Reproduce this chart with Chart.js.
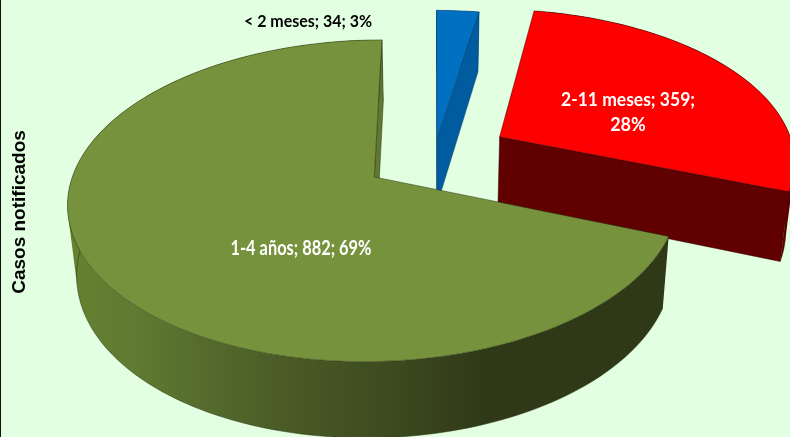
<!DOCTYPE html>
<html>
<head>
<meta charset="utf-8">
<title>Casos notificados</title>
<script src="https://cdn.jsdelivr.net/npm/chart.js@4/dist/chart.umd.js"></script>
<style>
  html, body { margin: 0; padding: 0; background: #e2ffe2; overflow: hidden; }
  #line { position: absolute; left: 0; top: 0; width: 1px; height: 437px; background: #111; }
  canvas { position: absolute; left: 0; top: 0; }
</style>
</head>
<body>
<canvas id="casosChart" width="790" height="437"></canvas>
<div id="line"></div>
<script>
const categorias = ['< 2 meses', '2-11 meses', '1-4 años'];
const casos = [34, 359, 882];
const porcentajes = [3, 28, 69];
const tituloEje = 'Casos notificados';

// colores de cada porción
const colorCara = ['#0070c0', '#ff0000', '#76923c'];
const colorCorte = ['#005c9e', '#600000', '#5f7a30'];
const colorBorde = ['#0a3d66', '#3a0000', '#28330f'];
const separacion = [12, 26, 24]; // separación de cada porción, en % del radio

// degradado de la pared de la porción verde
const paredVerde = [[0, '#66812f'], [0.12, '#5f7a32'], [0.22, '#566c2d'], [0.39, '#485825'], [0.55, '#3c4a1f'], [0.7, '#2f3817'], [1, '#2f3817']];

// perspectiva del "3D" de la torta
const vista = { x0: 434, y0: 156, fx: 296, fy: 151.2, t: 0.145, alto: 68, altoY: 7.3, cierre: 0.025 };

function proyectar(X, Y, abajo) {
  const w = 1 + vista.t * Y;
  let sx = vista.x0 + vista.fx * X / w;
  let sy = vista.y0 - vista.fy * Y / w;
  if (abajo) {
    sx -= (sx - vista.x0) * vista.cierre;
    sy += vista.alto - vista.altoY * Y;
  }
  return [sx, sy];
}

function camino(ctx, puntos, cerrar) {
  puntos.forEach((p, i) => i ? ctx.lineTo(p[0], p[1]) : ctx.moveTo(p[0], p[1]));
  if (cerrar) ctx.closePath();
}

function trazar(ctx, puntos, relleno, borde, ancho) {
  ctx.beginPath();
  camino(ctx, puntos, true);
  ctx.fillStyle = relleno;
  ctx.fill();
  ctx.strokeStyle = borde;
  ctx.lineWidth = ancho;
  ctx.stroke();
}

function areaDe(q) {
  let s = 0;
  q.forEach((p, i) => {
    const n = q[(i + 1) % q.length];
    s += p[0] * n[1] - n[0] * p[1];
  });
  return s;
}

// Arco normal de Chart.js, pero dibujado en perspectiva a partir de sus ángulos
class Arc3D extends Chart.ArcElement {
  static id = 'arc3d';

  draw(ctx) {
    const { startAngle, endAngle } = this.getProps(['startAngle', 'endAngle']);
    const i = this.$context.dataIndex;
    const medio = (startAngle + endAngle) / 2;
    const e = this.options.offset / 100;
    const cx = e * Math.cos(medio);
    const cy = -e * Math.sin(medio);

    const borde = [];
    const pasos = Math.ceil((endAngle - startAngle) * 40);
    for (let k = 0; k <= pasos; k++) {
      const a = startAngle + (endAngle - startAngle) * k / pasos;
      borde.push([cx + Math.cos(a), cy - Math.sin(a)]);
    }
    const arriba = borde.map(p => proyectar(p[0], p[1], false));
    const abajo = borde.map(p => proyectar(p[0], p[1], true));
    const centro = proyectar(cx, cy, false);
    const centroAbajo = proyectar(cx, cy, true);
    const lineaBorde = this.options.borderColor;
    const ancho = this.options.borderWidth;

    ctx.save();
    ctx.lineJoin = 'round';

    // pared exterior: todos los tramos en un solo path, con el mismo sentido de giro
    let pared = colorCorte[i];
    if (i === 2) {
      pared = ctx.createLinearGradient(67, 0, 666, 0);
      paredVerde.forEach(s => pared.addColorStop(s[0], s[1]));
    }
    ctx.beginPath();
    for (let k = 0; k < pasos; k++) {
      const q = [arriba[k], arriba[k + 1], abajo[k + 1], abajo[k]];
      camino(ctx, areaDe(q) < 0 ? q.reverse() : q, true);
    }
    ctx.fillStyle = pared;
    ctx.fill('nonzero');
    ctx.beginPath();
    camino(ctx, abajo, false);
    ctx.strokeStyle = lineaBorde;
    ctx.lineWidth = 0.5;
    ctx.stroke();

    // caras de corte, solo si miran hacia el observador
    const pm = proyectar(cx + 0.5 * Math.cos(medio), cy - 0.5 * Math.sin(medio), false);
    [[arriba[0], abajo[0]], [arriba[pasos], abajo[pasos]]].forEach(c => {
      const dx = c[0][0] - centro[0];
      const dy = c[0][1] - centro[1];
      const lado = dx * (pm[1] - centro[1]) - dy * (pm[0] - centro[0]);
      if (lado * dx < 0) {
        trazar(ctx, [centro, c[0], c[1], centroAbajo], colorCorte[i], lineaBorde, ancho);
      }
    });

    // cara superior
    trazar(ctx, [centro].concat(arriba), this.options.backgroundColor, lineaBorde, ancho);
    ctx.restore();
  }
}

class Pie3D extends Chart.PieController {
  static id = 'pie3d';
  static defaults = { dataElementType: 'arc3d' };
}

Chart.register(Arc3D, Pie3D);

// etiquetas de datos y título vertical
const etiquetas = {
  id: 'etiquetas',
  afterDatasetsDraw(chart) {
    const ctx = chart.ctx;
    const estilos = [
      { x: 308, y: 22, size: 17, color: '#000', max: 128 },
      { x: 628, y: 100, size: 18, color: '#fff', max: 134 },
      { x: 301, y: 248, size: 21, color: '#fff', max: 141 }
    ];
    ctx.save();
    ctx.textAlign = 'center';
    ctx.textBaseline = 'middle';
    categorias.forEach((c, i) => {
      const est = estilos[i];
      ctx.font = `bold ${est.size}px Lato`;
      ctx.fillStyle = est.color;
      if (i === 1) {
        ctx.fillText(`${c}; ${casos[i]};`, est.x, est.y, est.max);
        ctx.fillText(`${porcentajes[i]}%`, est.x, est.y + 25);
      } else {
        ctx.fillText(`${c}; ${casos[i]}; ${porcentajes[i]}%`, est.x, est.y, est.max);
      }
    });
    ctx.translate(20, 212);
    ctx.rotate(-Math.PI / 2);
    ctx.font = 'bold 19px "Liberation Sans"';
    ctx.fillStyle = '#000';
    ctx.fillText(tituloEje, 0, 0);
    ctx.restore();
  }
};

new Chart(document.getElementById('casosChart').getContext('2d'), {
  type: 'pie3d',
  data: {
    labels: categorias,
    datasets: [{
      data: casos,
      backgroundColor: colorCara,
      borderColor: colorBorde,
      borderWidth: 0.5,
      offset: separacion,
      clip: false
    }]
  },
  options: {
    responsive: false,
    animation: false,
    events: [],
    layout: { padding: 0 },
    plugins: { legend: { display: false }, tooltip: { enabled: false } }
  },
  plugins: [etiquetas]
});
</script>
</body>
</html>
